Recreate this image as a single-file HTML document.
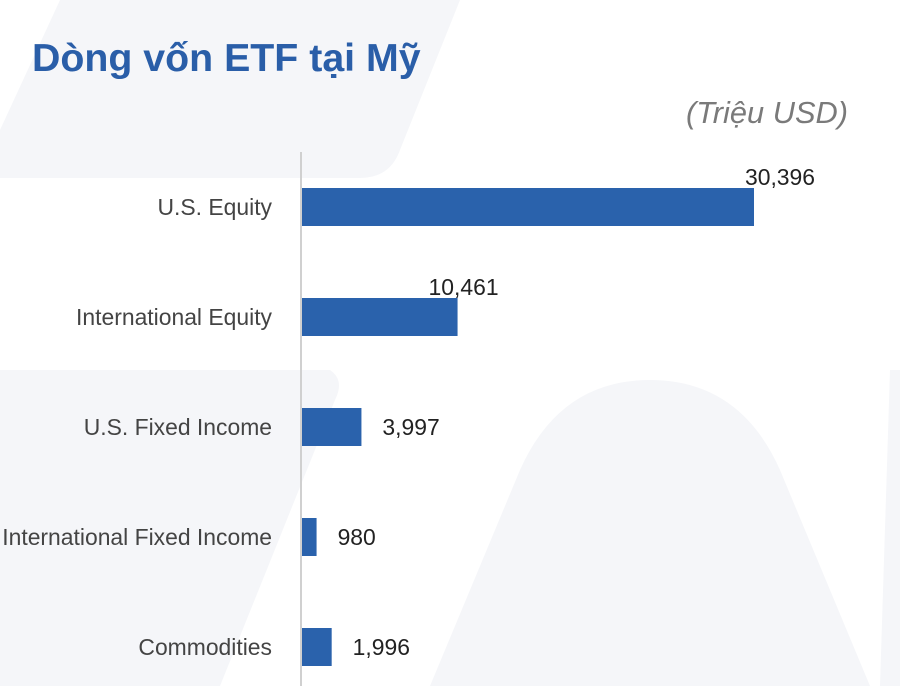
<!DOCTYPE html>
<html><head><meta charset="utf-8">
<style>
body{margin:0;width:900px;height:686px;overflow:hidden;background:#fff;font-family:"Liberation Sans","Noto Sans CJK SC",sans-serif;}
</style></head>
<body>
<svg id="chart" width="900" height="686" xmlns="http://www.w3.org/2000/svg">
<g fill="#f5f6f9">
<path d="M60 0 L460 0 L400 150 Q390 178 360 178 L0 178 L0 130 Z"/>
<path d="M0 370 L330 370 Q345 380 335 400 L220 686 L0 686 Z"/>
<path d="M520 470 Q560 380 650 380 Q740 380 780 470 L870 686 L430 686 Z"/>
<path d="M890 370 L900 370 L900 686 L880 686 Z"/>
</g>
<text x="32" y="71" font-size="39.3" font-weight="bold" fill="#2a5ea8">Dòng vốn ETF tại Mỹ</text>
<text x="848" y="123" font-size="30.8" font-style="italic" fill="#7a7a7a" text-anchor="end">(Triệu USD)</text>
<line x1="301" y1="152" x2="301" y2="686" stroke="#d0d0d0" stroke-width="2"/>
<g id="bars"></g>
</svg>
<script>
const categories = ["U.S. Equity","International Equity","U.S. Fixed Income","International Fixed Income","Commodities"];
const values = [30396, 10461, 3997, 980, 1996];
const valueLabels = ["30,396","10,461","3,997","980","1,996"];

const NS="http://www.w3.org/2000/svg";
const x0=302, pxPer=452/30396;
const xScale=v=>x0+v*pxPer;
const yCenter=i=>207+i*110;
const g=document.getElementById('bars');
function mk(tag,attrs){const e=document.createElementNS(NS,tag);for(const k in attrs)e.setAttribute(k,attrs[k]);return e;}
categories.forEach((c,i)=>{
  const yc=yCenter(i), xe=xScale(values[i]);
  const r=mk('rect',{x:x0,y:yc-19,width:xe-x0,height:38,fill:'#2a62ac'});
  
  
  g.appendChild(r);
  const t=mk('text',{x:272,y:yc+8,'font-size':22.9,fill:'#444','text-anchor':'end'});
  t.textContent=c;
  
  
  g.appendChild(t);
  let v;
  if(values[i]>8000){
    v=mk('text',{x:xe+(values[i]>20000?26:6),y:yc-22,'font-size':22.9,fill:'#222','text-anchor':'middle'});
  } else {
    v=mk('text',{x:xe+21,y:yc+8,'font-size':22.9,fill:'#222'});
  }
  v.textContent=valueLabels[i];
  
  
  g.appendChild(v);
});
</script>
</body></html>
